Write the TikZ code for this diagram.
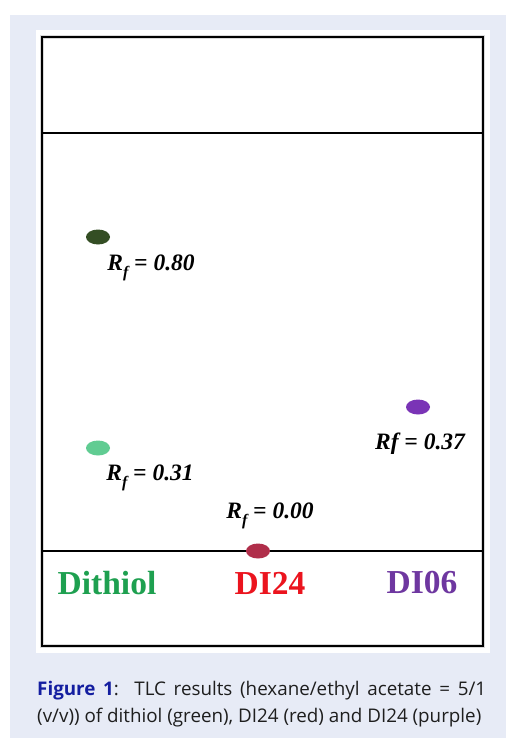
\documentclass[tikz,border=0pt]{standalone}
\usepackage{fontspec}
\setmainfont{Liberation Serif}
\newfontfamily\capfont{Open Sans}
\definecolor{panelbg}{RGB}{231,235,246}
\definecolor{spotdark}{RGB}{52,78,36}
\definecolor{spotlight}{RGB}{96,204,146}
\definecolor{spotpurple}{RGB}{122,52,182}
\definecolor{spotred}{RGB}{176,46,74}
\definecolor{txtgreen}{RGB}{30,160,80}
\definecolor{txtred}{RGB}{235,20,30}
\definecolor{txtpurple}{RGB}{110,55,160}
\definecolor{capblue}{RGB}{20,30,160}
\definecolor{captext}{RGB}{30,30,30}
\newcommand{\rfsub}{R\raisebox{-0.3em}{\fontsize{16}{17}\selectfont f}}
\tikzset{
  spot/.style={ellipse, minimum width=24pt, minimum height=15pt, inner sep=0pt},
  rflabel/.style={font=\fontsize{23.5}{25}\selectfont\bfseries\itshape, inner sep=0pt},
  lanelabel/.style={font=\fontsize{33.5}{36}\selectfont\bfseries, inner sep=0pt},
  capline/.style={font=\capfont\fontsize{18.8}{21}\selectfont, text=captext, inner sep=0pt, anchor=base west}
}
\usetikzlibrary{shapes.geometric}
\begin{document}
\begin{tikzpicture}[x=1pt,y=-1pt]
\useasboundingbox (0,0) rectangle (506,738);
\fill[white] (0,0) rectangle (506,738);
\fill[panelbg] (10,15) rectangle (506,738);
\fill[white] (36,30) rectangle (490,653);
% plate
\draw[black!15, line width=4.5pt] (42,37) rectangle (483,646);
\draw[black, line width=2.4pt] (42,37) rectangle (483,646);
\coordinate (topL) at (42,133);
\coordinate (topR) at (483,133);
\coordinate (baseL) at (42,551);
\coordinate (baseR) at (483,551);
\draw[black, line width=2pt] (topL) -- (topR);
\draw[black, line width=2pt] (baseL) -- (baseR);
% spots
\node[spot, fill=spotdark] (s1) at (98,237) {};
\node[spot, fill=spotlight] (s2) at (98,448) {};
\node[spot, fill=spotpurple] (s3) at (418,407) {};
\node[spot, fill=spotred] (s4) at (258,551) {};
% Rf labels
\node[rflabel] (r1) at (151,268) {\rfsub{} = 0.80};
\node[rflabel] (r2) at (150,478) {\rfsub{} = 0.31};
\node[rflabel] (r3) at (420,444) {Rf = 0.37};
\node[rflabel] (r4) at (270,516) {\rfsub{} = 0.00};
% lane labels
\node[lanelabel, text=txtgreen] (l1) at (107,583) {Dithiol};
\node[lanelabel, text=txtred] (l2) at (270,583) {DI24};
\node[lanelabel, text=txtpurple] (l3) at (422,583) {DI06};
% caption
\node[capline] (c1) at (37,695) {\makebox[449pt][s]{\textbf{\textcolor{capblue}{Figure 1}}:\ \ TLC results (hexane/ethyl acetate = 5/1}};
\node[capline] (c2) at (37,722) {(v/v)) of dithiol (green), DI24 (red) and DI24 (purple)};
\end{tikzpicture}
\end{document}
